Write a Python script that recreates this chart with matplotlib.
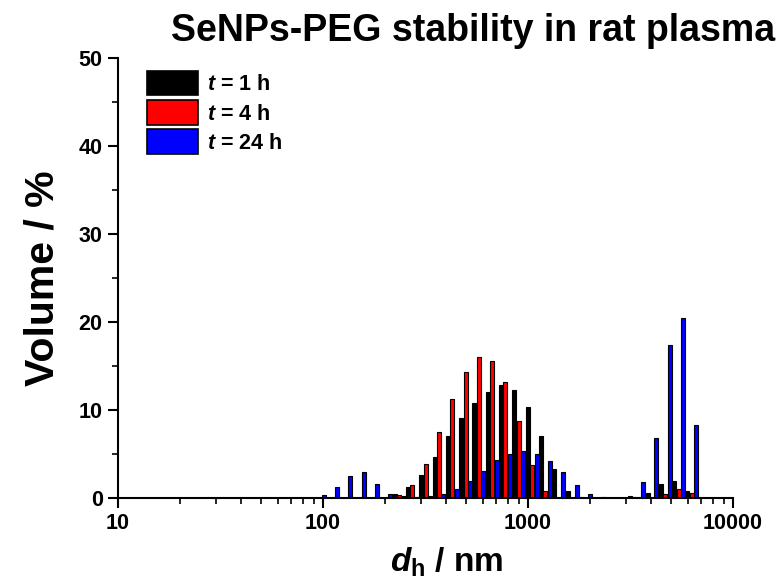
import numpy as np
import matplotlib
matplotlib.use('Agg')
import matplotlib.pyplot as plt
from matplotlib.ticker import LogLocator, MultipleLocator, NullFormatter, FixedLocator, FixedFormatter
from matplotlib.patches import Patch

# hydrodynamic diameter of each size class (position of the black bar), nm
sizes = [91.1, 105.8, 122.9, 142.7, 165.7, 192.5, 223.6, 259.4, 301.2, 349.9,
         406.3, 471.7, 548.2, 636.4, 738.7, 857.6, 996.6, 1157, 1343, 1561,
         1813, 2103, 2444, 2838, 3295, 3829, 4444, 5159, 5990]

# volume distribution, %
vol_1h = [0, 0, 0, 0, 0, 0, 0.4, 1.2, 2.65, 4.7,
          7.0, 9.05, 10.8, 12.1, 12.8, 12.3, 10.3, 7.0, 3.3, 0.83,
          0.1, 0, 0, 0.05, 0.1, 0.6, 1.6, 1.9, 0.76]
vol_4h = [0, 0, 0, 0, 0, 0, 0.3, 1.45, 3.9, 7.5,
          11.3, 14.3, 16.0, 15.6, 13.2, 8.7, 3.8, 0.8, 0, 0,
          0, 0, 0, 0, 0, 0, 0.5, 1.06, 0.53]
vol_24h = [0.3, 1.2, 2.5, 2.9, 1.6, 0.5, 0.2, 0.15, 0.2, 0.4,
           1.0, 1.9, 3.1, 4.3, 5.0, 5.3, 5.0, 4.2, 2.9, 1.5,
           0.5, 0.1, 0, 0.2, 1.8, 6.8, 17.4, 20.5, 8.3]

series = [('1', vol_1h, 'black'), ('4', vol_4h, 'red'), ('24', vol_24h, 'blue')]

plt.rcParams['font.family'] = ['Liberation Sans', 'DejaVu Sans']
plt.rcParams['font.weight'] = 'bold'
plt.rcParams['mathtext.fontset'] = 'custom'
plt.rcParams['mathtext.rm'] = 'Liberation Sans:bold'
plt.rcParams['mathtext.it'] = 'Liberation Sans:italic:bold'
plt.rcParams['mathtext.bf'] = 'Liberation Sans:bold'

fig = plt.figure(figsize=(7.76, 5.87), dpi=100)
ax = fig.add_axes([118 / 776, 89 / 587, 615 / 776, 440 / 587])

# grouped columns on a log axis: offsets/width in decades
step = 0.0649
width = 0.3 * step
d = np.log10(np.array(sizes, dtype=float))
for i, (lab, vals, col) in enumerate(series):
    vals = np.array(vals, dtype=float)
    c = d + i * step / 3
    left = 10 ** (c - width / 2)
    right = 10 ** (c + width / 2)
    m = vals > 0
    ax.bar(left[m], vals[m], width=(right - left)[m], align='edge',
           color=col, edgecolor='black', linewidth=0.8, zorder=2)

ax.set_xscale('log')
ax.set_xlim(10, 10000)
ax.set_ylim(0, 50)
ax.xaxis.set_major_locator(FixedLocator([10, 100, 1000, 10000]))
ax.xaxis.set_major_formatter(FixedFormatter(['10', '100', '1000', '10000']))
ax.xaxis.set_minor_locator(LogLocator(base=10, subs=np.arange(2, 10)))
ax.xaxis.set_minor_formatter(NullFormatter())
ax.yaxis.set_major_locator(MultipleLocator(10))
ax.yaxis.set_minor_locator(MultipleLocator(5))

for s in ['top', 'right']:
    ax.spines[s].set_visible(False)
for s in ['left', 'bottom']:
    ax.spines[s].set_linewidth(1.5)
ax.tick_params(which='major', direction='out', length=7, width=1.5, labelsize=15.5, pad=4)
ax.tick_params(which='minor', direction='out', length=4, width=1.2)
for t in ax.get_xticklabels() + ax.get_yticklabels():
    t.set_fontweight('bold')

ax.set_ylabel('Volume / %', fontsize=29.5, fontweight='bold')
ax.yaxis.set_label_coords(-0.092, 0.5)
ax.set_xlabel(r'$d_\mathrm{h}$ / nm', fontsize=24, fontweight='bold')
ax.xaxis.set_label_coords(0.535, -0.108)

fig.text(473 / 776, 1 - 31 / 587, 'SeNPs-PEG stability in rat plasma',
         fontsize=27, fontweight='bold', ha='center', va='center')

handles = [Patch(facecolor=col, edgecolor='black', linewidth=1.2) for _, _, col in series]
labels = [r'$t$ = %s h' % lab for lab, _, _ in series]
ax.legend(handles, labels, loc='upper left', bbox_to_anchor=(0.0467, 0.971),
          frameon=False, handlelength=2.37, handleheight=1.374,
          labelspacing=0.226, handletextpad=0.42, borderpad=0, borderaxespad=0,
          prop={'weight': 'bold', 'size': 15.5})

fig.savefig('out.png', dpi=100)
